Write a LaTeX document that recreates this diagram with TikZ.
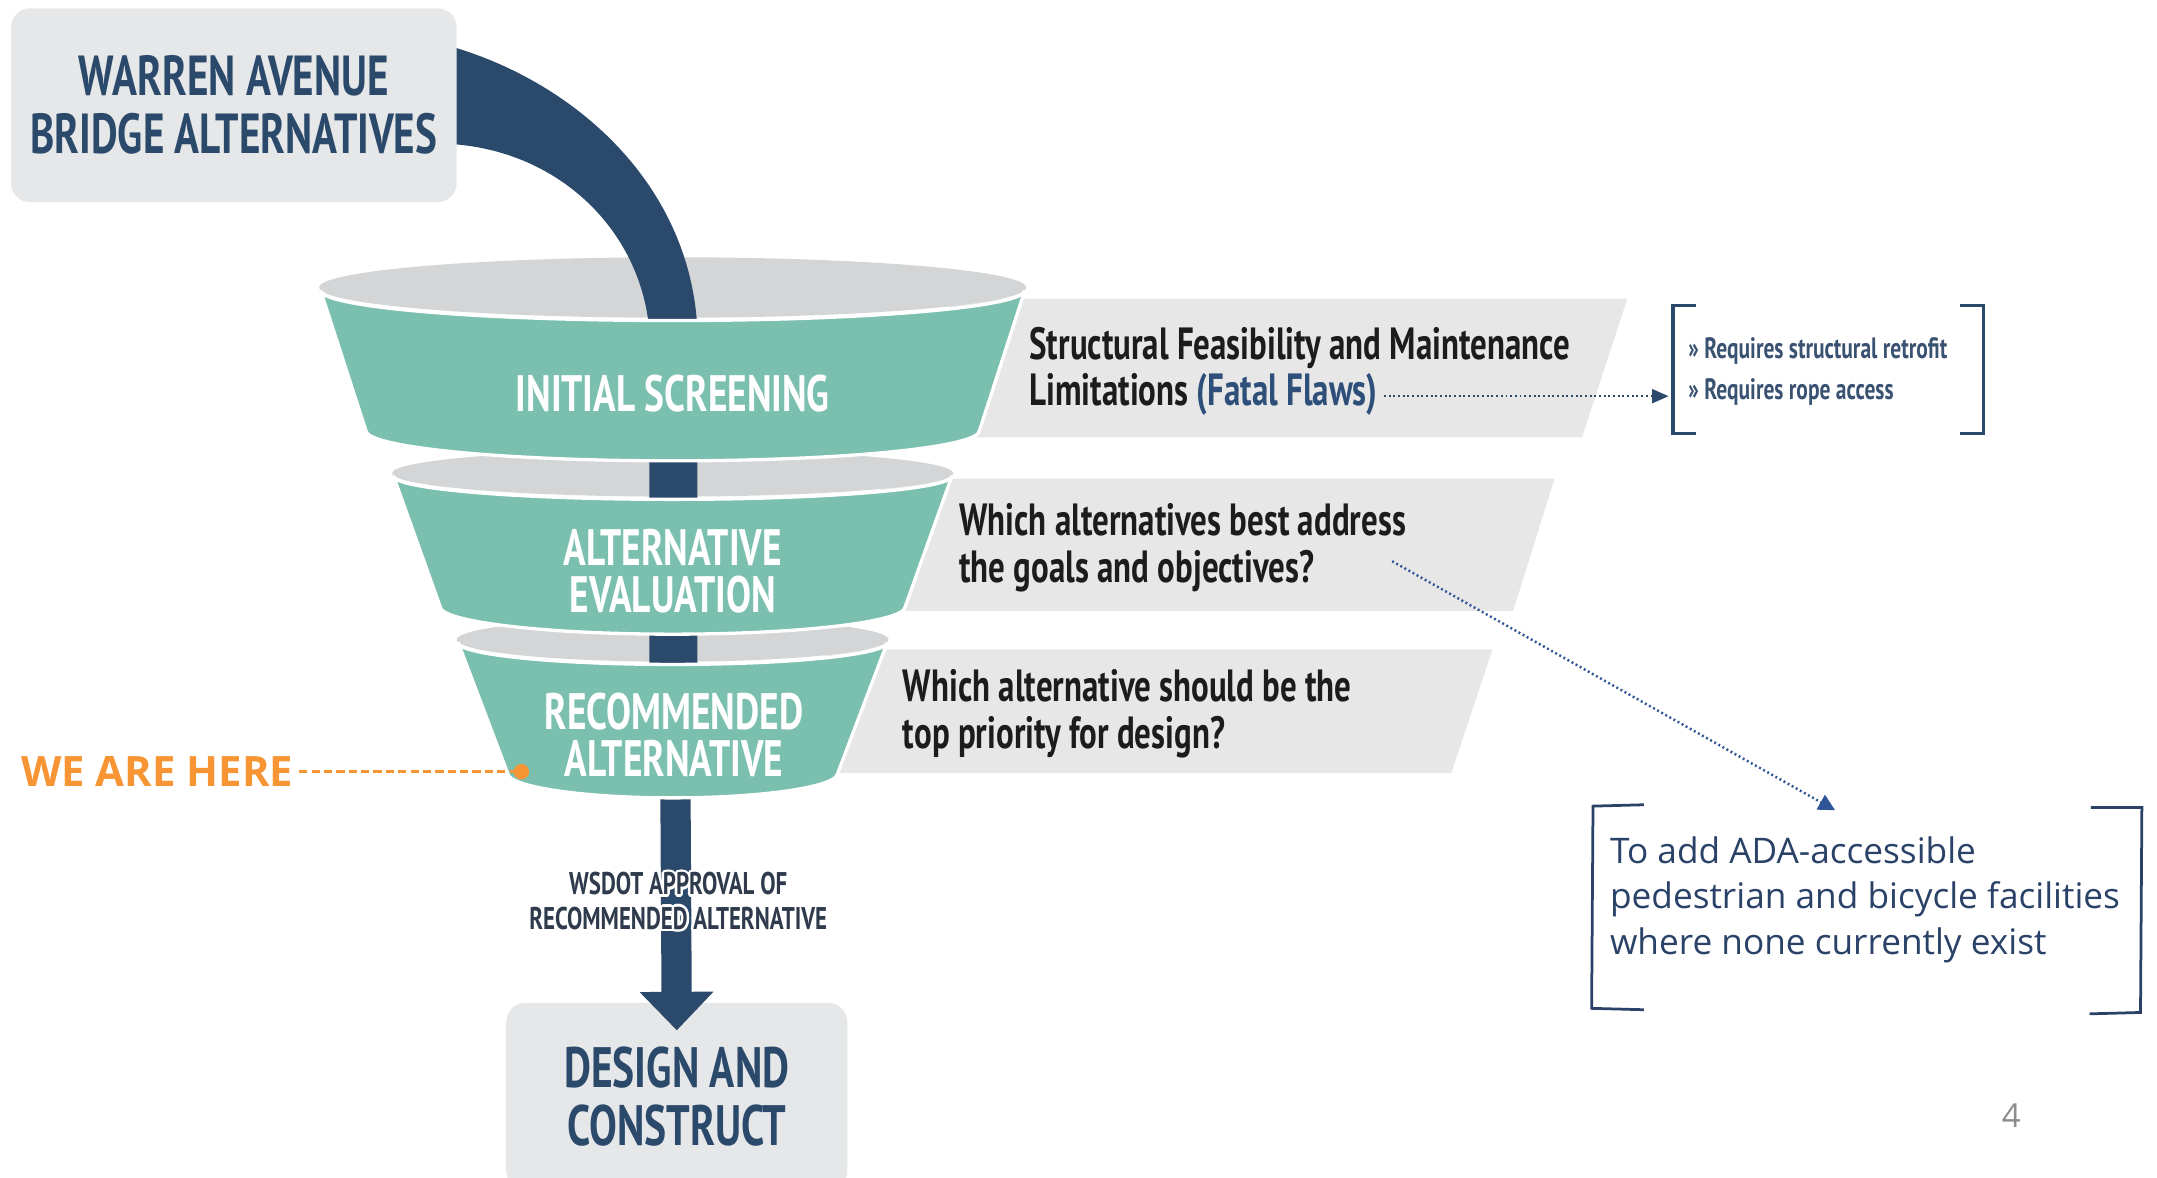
\documentclass[tikz,border=0pt]{standalone}
\usepackage{fontspec}
\usepackage{contour}
\contourlength{0.9pt}
\setmainfont{Open Sans}
\newfontfamily\condf[FakeStretch=0.73]{PT Sans}
\newfontfamily\segoe{Open Sans}
\usetikzlibrary{arrows.meta}
\definecolor{navy}{HTML}{2B4A6B}
\definecolor{funteal}{HTML}{7BBFAF}
\definecolor{rimgray}{HTML}{D4D5D6}
\definecolor{boxgray}{HTML}{E6E7E8}
\definecolor{bandgray}{HTML}{E7E7E7}
\definecolor{txtdark}{HTML}{1C1C1C}
\definecolor{flawblue}{HTML}{2D4F7A}
\definecolor{orangec}{HTML}{F79433}
\definecolor{arrowblue}{HTML}{2F5597}
\definecolor{adac}{HTML}{2A4268}
\definecolor{wsdotc}{HTML}{2F3B4C}
\definecolor{reqc}{HTML}{3A5272}
\definecolor{pgray}{HTML}{8C8C8C}
\newcommand\fsz[2]{\fontsize{#1}{#2}\selectfont}
\begin{document}
\begin{tikzpicture}[x=0.5pt,y=-0.5pt,
  titlebox/.style={fill=boxgray, rounded corners=7pt, text=navy, align=center, inner sep=0pt},
  funneltext/.style={text=white, align=center, inner sep=0pt, font=\condf\bfseries\fsz{18.6}{17}},
  bandtext/.style={text=txtdark, align=left, anchor=west, inner sep=0pt, font=\condf\bfseries\fsz{16.4}{17}},
  tealbody/.style={fill=funteal, draw=white, line width=1.2pt},
  dotarrow/.style={line width=0.9pt, dash pattern=on 0.7pt off 1pt},
  brk/.style={line width=1.3pt, draw=navy}
]
\useasboundingbox (0,0) rectangle (1568,856);

% grey bands
\fill[bandgray] (690,217) -- (1183,217) -- (1150,318) -- (690,318) -- cycle;
\fill[bandgray] (640,348) -- (1130,348) -- (1100,444) -- (640,444) -- cycle;
\fill[bandgray] (600,472) -- (1085,472) -- (1055,562) -- (600,562) -- cycle;

% title boxes
\node[titlebox, minimum width=162pt, minimum height=70.5pt, font=\condf\bfseries\fsz{20.5}{21}] (warren) at (170,76.5) {WARREN AVENUE\\BRIDGE ALTERNATIVES};
\node[titlebox, minimum width=124pt, minimum height=68pt, font=\condf\bfseries\fsz{20.7}{21}] (design) at (492,797) {DESIGN AND\\CONSTRUCT};

% funnel rims
\fill[rimgray] (489,209) ellipse [x radius=128.5pt, y radius=11pt];
\fill[rimgray] (489,344) ellipse [x radius=102pt, y radius=8.5pt];
\fill[rimgray] (489,465) ellipse [x radius=78.5pt, y radius=8pt];

% flow band
\fill[navy] (332,35) .. controls (420,62) and (502,135) .. (507,240) -- (507,580) -- (472,580) -- (472,240) .. controls (466,170) and (410,112) .. (332,105) -- cycle;
\coordinate (shafttop) at (491,575);
\coordinate (shaftend) at (492,749);
\draw[navy, line width=11pt, -{Triangle[width=26pt,length=14pt]}] (shafttop) -- (shaftend);

% funnel bodies
\filldraw[tealbody] (745,211) .. controls (745,223.2) and (630.4,233) .. (489,233) .. controls (347.6,233) and (233,223.2) .. (233,211) -- (266,313) .. controls (266,325.2) and (365.8,335) .. (489,335) .. controls (612.2,335) and (712,325.2) .. (712,313) -- cycle;
\filldraw[tealbody] (692,346) .. controls (692,355.4) and (601.1,363) .. (489,363) .. controls (376.9,363) and (286,355.4) .. (286,346) -- (320,441) .. controls (320,452) and (395.7,461) .. (489,461) .. controls (582.3,461) and (658,452) .. (658,441) -- cycle;
\filldraw[tealbody] (645,467) .. controls (645,475.8) and (575.2,483) .. (489,483) .. controls (402.8,483) and (333,475.8) .. (333,467) -- (369,562) .. controls (369,571.9) and (422.7,580) .. (489,580) .. controls (555.3,580) and (609,571.9) .. (609,562) -- cycle;

\node[funneltext] (s1) at (489,286) {INITIAL SCREENING};
\node[funneltext] (s2) at (489,415) {ALTERNATIVE\\EVALUATION};
\node[funneltext] (s3) at (490,534) {RECOMMENDED\\ALTERNATIVE};

% band texts
\node[bandtext] (b1) at (748,270) {Structural Feasibility and Maintenance\\Limitations {\color{flawblue}(Fatal Flaws)}};
\node[bandtext] (b2) at (697,398) {Which alternatives best address\\the goals and objectives?};
\node[bandtext] (b3) at (656,519) {Which alternative should be the\\top priority for design?};

% requirements bracket
\draw[brk] (1233,222) -- (1216,222) -- (1216,315) -- (1233,315);
\draw[brk] (1425,222) -- (1442,222) -- (1442,315) -- (1425,315);
\node[anchor=west, inner sep=0pt, align=left, text=reqc, font=\condf\bfseries\fsz{10.7}{15}] (req) at (1227,270) {» Requires structural retrofit\\» Requires rope access};
\coordinate (ff) at (1006,288);
\coordinate (brk1) at (1213,288);
\draw[navy, dotarrow, -{Triangle[width=5pt,length=6pt]}] (ff) -- (brk1);

% ADA bracket
\draw[line width=1pt, draw=adac] (1195,585) -- (1158,586) -- (1157,733) -- (1195,734);
\draw[line width=1pt, draw=adac] (1520,587) -- (1557,587) -- (1556,736) -- (1519,737);
\node[anchor=west, inner sep=0pt, align=left, text=adac, font=\segoe\fsz{12.8}{16.5}] (adatext) at (1170,654) {To add ADA-accessible\\pedestrian and bicycle facilities\\where none currently exist};
\coordinate (goal) at (1012,408);
\coordinate (ada) at (1334,589);
\draw[arrowblue, dotarrow, -{Triangle[width=6pt,length=6pt]}] (goal) -- (ada);

% approval label
\node[font=\condf\bfseries\fsz{11.4}{12.5}, text=wsdotc, align=center, inner sep=0pt] (wsdot) at (493,656) {\contour{white}{WSDOT APPROVAL OF}\\\contour{white}{RECOMMENDED ALTERNATIVE}};

% we are here
\node[anchor=west, inner sep=0pt, text=orangec, font=\segoe\bfseries\fsz{15.2}{16}] (here) at (15,561) {WE ARE HERE};
\coordinate (heredot) at (379,561);
\draw[orangec, line width=1.2pt, dash pattern=on 3pt off 1.5pt] ([xshift=2pt]here.east) -- (heredot);
\fill[orangec] (heredot) circle [radius=2.8pt];

% page number
\node[text=pgray, font=\segoe\fsz{12}{14}, inner sep=0pt] (pnum) at (1462,811) {4};
\end{tikzpicture}
\end{document}
